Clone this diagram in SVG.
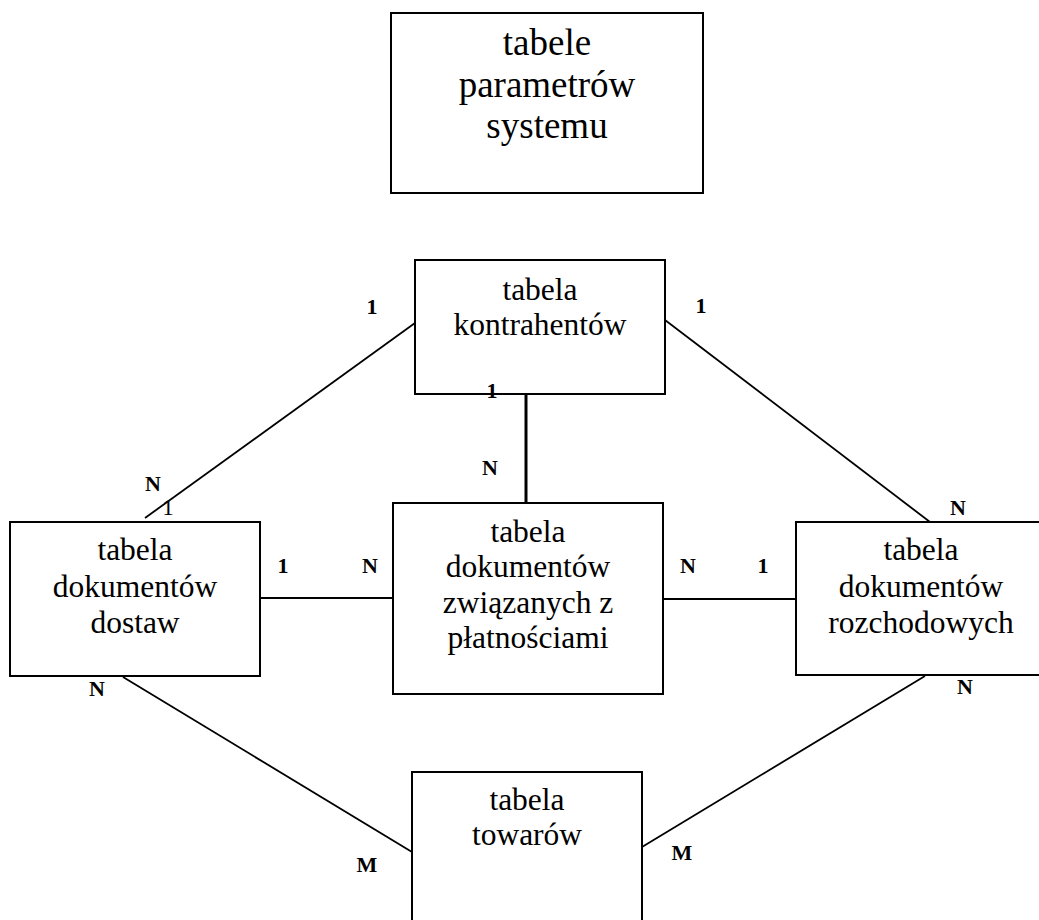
<svg xmlns="http://www.w3.org/2000/svg" width="1039" height="920" viewBox="0 0 1039 920">
<style>
.box{fill:#fff;stroke:#000;stroke-width:2}
.ln{stroke:#000;stroke-width:1.8;fill:none}
.t{font-family:"Liberation Serif","Times New Roman",serif;font-size:31.5px;text-anchor:middle;fill:#000}
.tb{font-family:"Liberation Serif","Times New Roman",serif;font-size:37px;text-anchor:middle;fill:#000}
.lb{font-family:"Liberation Serif","Times New Roman",serif;font-size:22px;font-weight:bold;text-anchor:middle;fill:#000}
.lr{font-family:"Liberation Serif","Times New Roman",serif;font-size:23px;text-anchor:middle;fill:#000}
</style>
<rect width="1039" height="920" fill="#fff"/>
<g id="connectors">
<line class="ln" x1="415" y1="323" x2="145" y2="518"/>
<line class="ln" x1="665" y1="320" x2="930" y2="522"/>
<line class="ln" x1="526" y1="394" x2="526" y2="502" style="stroke-width:3"/>
<line class="ln" x1="260" y1="598" x2="393" y2="598"/>
<line class="ln" x1="663" y1="599" x2="796" y2="599"/>
<line class="ln" x1="123" y1="677" x2="412" y2="852"/>
<line class="ln" x1="925" y1="676" x2="642" y2="847"/>
</g>
<g id="n-params">
<rect class="box" x="391" y="13" width="312" height="180"/>
<text class="tb" x="547" y="55">tabele</text>
<text class="tb" x="547" y="97">parametrów</text>
<text class="tb" x="547" y="138">systemu</text>
</g>
<g id="n-kontrahenci">
<rect class="box" x="415" y="260" width="250" height="134"/>
<text class="t" x="540" y="300">tabela</text>
<text class="t" x="540" y="335">kontrahentów</text>
</g>
<g id="n-dostawy">
<rect class="box" x="10" y="522" width="250" height="154"/>
<text class="t" x="135" y="560">tabela</text>
<text class="t" x="135" y="597">dokumentów</text>
<text class="t" x="135" y="633">dostaw</text>
</g>
<g id="n-platnosci">
<rect class="box" x="393" y="503" width="270" height="191"/>
<text class="t" x="528" y="542">tabela</text>
<text class="t" x="528" y="577">dokumentów</text>
<text class="t" x="528" y="613">związanych z</text>
<text class="t" x="528" y="648">płatnościami</text>
</g>
<g id="n-rozchody">
<rect class="box" x="796" y="522" width="250" height="153"/>
<text class="t" x="921" y="560">tabela</text>
<text class="t" x="921" y="597">dokumentów</text>
<text class="t" x="921" y="633">rozchodowych</text>
</g>
<g id="n-towary">
<rect class="box" x="412" y="772" width="230" height="160"/>
<text class="t" x="527" y="810">tabela</text>
<text class="t" x="527" y="845">towarów</text>
</g>
<g id="labels">
<text class="lb" x="372" y="314">1</text>
<text class="lb" x="701" y="313">1</text>
<text class="lb" x="492" y="398">1</text>
<text class="lb" x="490" y="475">N</text>
<text class="lb" x="153" y="491">N</text>
<text class="lr" x="168" y="515">1</text>
<text class="lb" x="958" y="515">N</text>
<text class="lb" x="283" y="573">1</text>
<text class="lb" x="370" y="573">N</text>
<text class="lb" x="688" y="573">N</text>
<text class="lb" x="763" y="573">1</text>
<text class="lb" x="97" y="696">N</text>
<text class="lb" x="965" y="694">N</text>
<text class="lb" x="367" y="872">M</text>
<text class="lb" x="682" y="860">M</text>
</g>
</svg>
